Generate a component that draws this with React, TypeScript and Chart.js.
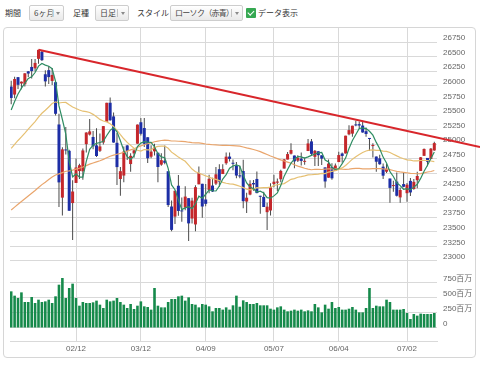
import React, { useEffect, useRef } from 'react';
import { Chart, registerables } from 'chart.js';

Chart.register(...registerables);

// ---- data ----
const dates = [
  '01/16','01/17','01/18','01/19','01/22','01/23','01/24','01/25','01/26','01/29','01/30','01/31',
  '02/01','02/02','02/05','02/06','02/07','02/08','02/09','02/12','02/13','02/14','02/15','02/16','02/20','02/21','02/22','02/23','02/26','02/27','02/28',
  '03/01','03/02','03/05','03/06','03/07','03/08','03/09','03/12','03/13','03/14','03/15','03/16','03/19','03/20','03/21','03/22','03/23','03/26','03/27','03/28','03/29',
  '04/02','04/03','04/04','04/05','04/06','04/09','04/10','04/11','04/12','04/13','04/16','04/17','04/18','04/19','04/20','04/23','04/24','04/25','04/26','04/27','04/30',
  '05/01','05/02','05/03','05/04','05/07','05/08','05/09','05/10','05/11','05/14','05/15','05/16','05/17','05/18','05/21','05/22','05/23','05/24','05/25','05/29','05/30','05/31',
  '06/01','06/04','06/05','06/06','06/07','06/08','06/11','06/12','06/13','06/14','06/15','06/18','06/19','06/20','06/21','06/22','06/25','06/26','06/27','06/28','06/29',
  '07/02','07/03','07/05','07/06','07/09','07/10','07/11','07/12','07/13',
];

const opens = [
  25987, 25850, 26148, 26040, 26026, 26248, 26323, 26299, 26462, 26584,
  26198, 26268, 26083, 26062, 25338, 24085, 24894, 24887, 23992, 24337,
  24540, 24536, 25001, 25165, 25124, 24980, 24887, 25030, 25384, 25710,
  25476, 25024, 24404, 24463, 24979, 24660, 24842, 25009, 25376, 25277,
  25119, 24786, 24878, 24854, 24650, 24718, 24537, 23933, 23760, 24289,
  23853, 23915, 24076, 23727, 23626, 24313, 24322, 24053, 24216, 24292,
  24325, 24572, 24489, 24674, 24788, 24681, 24635, 24467, 24541, 24018,
  24137, 24336, 24405, 24117, 24097, 23836, 23865, 24318, 24341, 24400,
  24583, 24737, 24837, 24806, 24718, 24753, 24698, 24883, 25048, 24784,
  24879, 24810, 24603, 24427, 24609, 24542, 24694, 24841, 24842, 25169,
  25181, 25335, 25343, 25319, 25223, 25091, 24968, 24789, 24758, 24615,
  24529, 24412, 24283, 24360, 24089, 24317, 24161, 24372, 24233, 24384,
  24542, 24801, 24765, 24746, 24893,
];

const highs = [
  26086, 26154, 26153, 26072, 26215, 26252, 26458, 26458, 26617, 26609,
  26267, 26338, 26306, 26062, 25520, 24946, 25293, 24903, 24382, 24757,
  24667, 24925, 25203, 25432, 25224, 25274, 25182, 25310, 25709, 25800,
  25543, 25193, 24608, 24960, 24988, 24846, 24915, 25336, 25450, 25450,
  25119, 24983, 25009, 24854, 24845, 24977, 24537, 24036, 24202, 24473,
  24089, 24280, 24076, 24083, 24296, 24617, 24322, 24317, 24479, 24426,
  24609, 24658, 24656, 24858, 24858, 24738, 24695, 24633, 24733, 24167,
  24384, 24389, 24534, 24117, 24185, 23996, 24333, 24479, 24412, 24561,
  24748, 24868, 25017, 24806, 24811, 24859, 24772, 25087, 25087, 24902,
  24879, 24810, 24603, 24738, 24674, 24669, 24871, 24857, 25146, 25326,
  25317, 25402, 25388, 25403, 25287, 25105, 25017, 24789, 24819, 24668,
  24667, 24412, 24375, 24515, 24260, 24510, 24334, 24422, 24404, 24529,
  24781, 24928, 24765, 24934, 25040,
];

const lows = [
  25685, 25788, 25947, 25943, 25990, 26150, 26124, 26247, 26378, 26425,
  25989, 26032, 26015, 25490, 23923, 23778, 24825, 23860, 23360, 24337,
  24406, 24391, 24860, 25149, 24912, 24781, 24868, 24995, 25384, 25401,
  25024, 24303, 24117, 24349, 24728, 24528, 24768, 25009, 25151, 24950,
  24679, 24761, 24805, 24348, 24630, 24658, 23925, 23509, 23632, 23776,
  23671, 23868, 23344, 23644, 23508, 24313, 23739, 23936, 24158, 24180,
  24300, 24272, 24489, 24648, 24703, 24554, 24418, 24416, 23902, 23823,
  24127, 24205, 24161, 23808, 23924, 23532, 23778, 24263, 24198, 24349,
  24583, 24737, 24822, 24589, 24696, 24634, 24649, 24883, 24811, 24627,
  24627, 24646, 24253, 24427, 24392, 24542, 24694, 24683, 24842, 25152,
  25126, 25306, 25271, 25198, 25127, 24886, 24774, 24527, 24647, 24406,
  24505, 23997, 24185, 24104, 23997, 24264, 24016, 24114, 24218, 24246,
  24542, 24796, 24624, 24746, 24887,
];

const closes = [
  25792, 26116, 26017, 26071, 26214, 26210, 26252, 26392, 26616, 26439,
  26076, 26149, 26186, 25521, 24346, 24912, 24893, 23860, 24190, 24601,
  24640, 24893, 25200, 25219, 24964, 24798, 24962, 25310, 25709, 25410,
  25029, 24608, 24538, 24874, 24884, 24801, 24895, 25336, 25178, 25007,
  24759, 24873, 24947, 24610, 24727, 24682, 23958, 23533, 24202, 23857,
  23849, 24103, 23644, 24034, 24264, 24505, 23933, 23979, 24408, 24190,
  24484, 24360, 24573, 24787, 24748, 24665, 24463, 24448, 24024, 24084,
  24322, 24311, 24163, 24100, 23925, 23930, 24263, 24358, 24361, 24543,
  24740, 24831, 24900, 24706, 24769, 24714, 24715, 25013, 24835, 24887,
  24812, 24753, 24362, 24668, 24416, 24635, 24814, 24799, 25146, 25241,
  25317, 25322, 25320, 25201, 25175, 25090, 24987, 24700, 24657, 24461,
  24580, 24252, 24283, 24117, 24216, 24271, 24307, 24174, 24356, 24456,
  24776, 24919, 24700, 24924, 25019,
];

// moving averages (5 / 25 / 75 day)
const ma5 = [
  25585, 25731, 25860, 25960, 26042, 26126, 26153, 26228, 26337, 26382,
  26355, 26334, 26293, 26074, 25656, 25423, 25172, 24706, 24440, 24491,
  24437, 24437, 24705, 24911, 24983, 25015, 25029, 25051, 25149, 25238,
  25284, 25213, 25059, 24892, 24787, 24741, 24798, 24958, 25019, 25043,
  25035, 25031, 24953, 24839, 24783, 24768, 24585, 24302, 24220, 24046,
  23880, 23909, 23931, 23897, 23979, 24110, 24076, 24143, 24218, 24203,
  24199, 24284, 24403, 24479, 24590, 24627, 24647, 24622, 24470, 24337,
  24268, 24238, 24181, 24196, 24164, 24086, 24076, 24115, 24167, 24291,
  24453, 24567, 24675, 24744, 24789, 24784, 24761, 24783, 24809, 24833,
  24852, 24860, 24730, 24696, 24602, 24567, 24579, 24666, 24762, 24927,
  25063, 25165, 25269, 25280, 25267, 25222, 25155, 25031, 24922, 24779,
  24677, 24530, 24447, 24339, 24290, 24228, 24239, 24217, 24265, 24313,
  24414, 24536, 24641, 24755, 24868,
];

const ma25 = [
  24927, 24998, 25064, 25126, 25191, 25259, 25324, 25388, 25462, 25530,
  25582, 25638, 25696, 25726, 25706, 25714, 25716, 25674, 25638, 25611,
  25585, 25565, 25559, 25544, 25511, 25471, 25425, 25397, 25382, 25350,
  25303, 25237, 25163, 25093, 25031, 24980, 24930, 24896, 24882, 24908,
  24902, 24902, 24945, 24962, 24967, 24969, 24931, 24864, 24824, 24779,
  24742, 24707, 24641, 24574, 24528, 24507, 24480, 24457, 24439, 24411,
  24398, 24377, 24346, 24331, 24320, 24317, 24300, 24280, 24257, 24231,
  24217, 24231, 24256, 24252, 24255, 24258, 24264, 24293, 24306, 24317,
  24326, 24362, 24399, 24411, 24434, 24444, 24458, 24475, 24477, 24483,
  24489, 24500, 24497, 24523, 24536, 24548, 24569, 24594, 24636, 24688,
  24744, 24786, 24825, 24858, 24884, 24898, 24904, 24896, 24894, 24882,
  24876, 24858, 24829, 24800, 24773, 24751, 24733, 24726, 24713, 24715,
  24721, 24725, 24721, 24712, 24703,
];

const ma75 = [
  23874, 23923, 23972, 24019, 24066, 24113, 24160, 24208, 24259, 24308,
  24350, 24394, 24439, 24473, 24491, 24514, 24537, 24544, 24556, 24572,
  24589, 24609, 24633, 24658, 24679, 24697, 24716, 24740, 24769, 24793,
  24813, 24828, 24843, 24862, 24882, 24902, 24922, 24948, 24971, 24990,
  25007, 25024, 25042, 25053, 25063, 25069, 25065, 25055, 25055, 25051,
  25047, 25043, 25034, 25027, 25023, 25023, 25013, 25003, 24998, 24991,
  24987, 24982, 24979, 24979, 24978, 24977, 24973, 24966, 24952, 24936,
  24923, 24909, 24893, 24873, 24848, 24823, 24799, 24777, 24754, 24732,
  24712, 24693, 24673, 24648, 24625, 24607, 24588, 24572, 24563, 24571,
  24569, 24567, 24574, 24580, 24578, 24578, 24577, 24571, 24570, 24574,
  24581, 24586, 24586, 24579, 24576, 24577, 24582, 24584, 24581, 24576,
  24573, 24564, 24550, 24536, 24525, 24519, 24511, 24501, 24498, 24494,
  24495, 24508, 24524, 24533, 24549,
];

// volume, millions of shares
const volumes = [
  611, 539, 500, 594, 433, 433, 517, 417, 472, 433,
  444, 472, 417, 528, 722, 833, 500, 667, 739, 500,
  372, 433, 417, 417, 428, 456, 389, 333, 472, 444,
  456, 500, 433, 389, 333, 400, 317, 372, 444, 361,
  350, 306, 667, 372, 344, 344, 433, 483, 483, 528,
  539, 456, 511, 400, 389, 344, 400, 389, 361, 278,
  333, 333, 306, 344, 306, 378, 539, 355, 461, 433,
  400, 400, 417, 378, 378, 378, 322, 306, 344, 361,
  306, 278, 289, 306, 289, 306, 278, 294, 278, 400,
  344, 261, 389, 322, 433, 333, 350, 306, 306, 322,
  350, 306, 261, 261, 333, 667, 333, 372, 361, 361,
  472, 433, 306, 306, 306, 317, 250, 150, 233, 206,
  239, 233, 233, 233, 250,
];

// resistance trend line: (day index, price)
const trendX = [8, 137.4];
const trendY = [26617, 24952];

const xTickLabels = ['02/12', '03/12', '04/09', '05/07', '06/04', '07/02'];
const priceTicks = [23000, 23250, 23500, 23750, 24000, 24250, 24500, 24750, 25000, 25250, 25500, 25750, 26000, 26250, 26500, 26750];
const volumeTicks = [0, 250, 500, 750];
const volumeTickLabels = ['0', '250百万', '500百万', '750百万'];

// ---- styles ----
const UP = '#c4272b';
const DOWN = '#1d2ea6';
const WICK = '#4a4a4a';
const VOL = '#168a4b';
const GRID = '#d9d9d9';
const TICK_COLOR = '#666';
const JP = '"Noto Sans CJK JP", "Noto Sans", sans-serif';
const NUM_FONT = '"Liberation Sans", "Noto Sans CJK JP", sans-serif';

function Label({ left, text }: { left: number; text: string }) {
  return (
    <div style={{ position: 'absolute', left, top: 5, height: 16, lineHeight: '16px', fontSize: 8, color: '#333', fontFamily: JP, whiteSpace: 'nowrap' }}>
      {text}
    </div>
  );
}

function DropDown({ left, width, text, spacing = 0 }: { left: number; width: number; text: string; spacing?: number }) {
  return (
    <div style={{ position: 'absolute', left, top: 5, width, height: 16, boxSizing: 'border-box', border: '1px solid #cdcdcd', borderRadius: 2, background: 'linear-gradient(#ffffff, #e9e9e9)', fontFamily: JP, fontSize: 8, color: '#444', whiteSpace: 'nowrap' }}>
      <span style={{ position: 'absolute', left: 4, top: 0, lineHeight: '14px', letterSpacing: spacing }}>{text}</span>
      <span style={{ position: 'absolute', right: 10, top: 3, width: 1, height: 8, background: '#c4c4c4' }} />
      <span style={{ position: 'absolute', right: 3, top: 6, width: 0, height: 0, borderLeft: '2px solid transparent', borderRight: '2px solid transparent', borderTop: '3px solid #8a8a8a' }} />
    </div>
  );
}

export default function App() {
  const canvasRef = useRef<HTMLCanvasElement>(null);

  useEffect(() => {
    const canvas = canvasRef.current;
    if (!canvas) return;
    const idx = closes.map((_, i) => i);
    const bodyColors = idx.map((i) => (closes[i] >= opens[i] ? UP : DOWN));
    const xTickValues = xTickLabels.map((l) => dates.indexOf(l));

    const chart = new Chart(canvas, {
      type: 'bar',
      data: {
        datasets: [
          {
            type: 'line',
            label: 'trend',
            data: trendX.map((x, i) => ({ x, y: trendY[i] })),
            borderColor: '#d8262b',
            borderWidth: 2,
            pointRadius: 0,
            clip: false,
            yAxisID: 'yPrice',
            xAxisID: 'x',
            order: 0,
          } as any,
          {
            type: 'line',
            label: 'MA5',
            data: idx.map((i) => ({ x: i, y: ma5[i] })),
            borderColor: '#2f8d63',
            borderWidth: 1.2,
            pointRadius: 0,
            yAxisID: 'yPrice',
            xAxisID: 'x',
            order: 1,
          } as any,
          {
            type: 'line',
            label: 'MA25',
            data: idx.map((i) => ({ x: i, y: ma25[i] })),
            borderColor: '#e6c072',
            borderWidth: 1.2,
            pointRadius: 0,
            yAxisID: 'yPrice',
            xAxisID: 'x',
            order: 1,
          } as any,
          {
            type: 'line',
            label: 'MA75',
            data: idx.map((i) => ({ x: i, y: ma75[i] })),
            borderColor: '#e9a56c',
            borderWidth: 1.2,
            pointRadius: 0,
            yAxisID: 'yPrice',
            xAxisID: 'x',
            order: 1,
          } as any,
          {
            type: 'bar',
            label: 'body',
            data: idx.map((i) => ({ x: i, y: [opens[i], closes[i]] })),
            backgroundColor: bodyColors,
            barThickness: 3,
            grouped: false,
            minBarLength: 1,
            inflateAmount: 0,
            yAxisID: 'yPrice',
            xAxisID: 'x',
            order: 2,
          } as any,
          {
            type: 'bar',
            label: 'wick',
            data: idx.map((i) => ({ x: i, y: [lows[i], highs[i]] })),
            backgroundColor: WICK,
            barThickness: 1,
            grouped: false,
            inflateAmount: 0,
            yAxisID: 'yPrice',
            xAxisID: 'x',
            order: 3,
          } as any,
          {
            type: 'bar',
            label: 'volume',
            data: idx.map((i) => ({ x: i, y: volumes[i] })),
            backgroundColor: VOL,
            barThickness: 2.6,
            grouped: false,
            inflateAmount: 0,
            yAxisID: 'yVol',
            xAxisID: 'x',
            order: 4,
          } as any,
        ],
      },
      options: {
        responsive: false,
        devicePixelRatio: 1,
        animation: false,
        events: [],
        layout: { padding: { left: 10, right: 0, top: 0, bottom: 0 } },
        plugins: { legend: { display: false }, tooltip: { enabled: false } },
        scales: {
          x: {
            type: 'linear',
            position: 'bottom',
            min: -0.352,
            max: 124.79,
            offset: false,
            grid: { color: GRID, drawTicks: false, offset: false },
            border: { display: true, color: GRID },
            ticks: {
              autoSkip: false,
              maxRotation: 0,
              padding: 3,
              color: TICK_COLOR,
              font: { family: NUM_FONT, size: 8 },
              callback: (v: any) => dates[v as number] ?? '',
            },
            afterBuildTicks: (s: any) => {
              s.ticks = xTickValues.map((v) => ({ value: v }));
            },
            afterFit: (s: any) => {
              s.height = 17;
              s.paddingLeft = 0;
              s.paddingRight = 0;
            },
          },
          yPrice: {
            type: 'linear',
            position: 'right',
            stack: 'v',
            stackWeight: 240,
            min: 22880,
            max: 26990,
            grid: { color: GRID, drawTicks: false },
            border: { display: false },
            ticks: {
              autoSkip: false,
              padding: 6,
              labelOffset: -4,
              color: TICK_COLOR,
              font: { family: NUM_FONT, size: 8 },
              callback: (v: any) => String(v),
            },
            afterBuildTicks: (s: any) => {
              s.ticks = priceTicks.map((v) => ({ value: v }));
            },
            afterFit: (s: any) => {
              s.width = 43;
              s.paddingTop = 0;
              s.paddingBottom = 0;
            },
          },
          yVol: {
            type: 'linear',
            position: 'right',
            stack: 'v',
            stackWeight: 73,
            min: -216.7,
            max: 1000,
            grid: { color: GRID, drawTicks: false },
            border: { display: false },
            ticks: {
              autoSkip: false,
              padding: 6,
              labelOffset: -4,
              color: TICK_COLOR,
              font: { family: NUM_FONT, size: 8 },
              callback: (v: any) => volumeTickLabels[volumeTicks.indexOf(v as number)] ?? '',
            },
            afterBuildTicks: (s: any) => {
              s.ticks = volumeTicks.map((v) => ({ value: v }));
            },
            afterFit: (s: any) => {
              s.width = 43;
              s.paddingTop = 0;
              s.paddingBottom = 0;
            },
          },
        } as any,
      },
    });
    return () => chart.destroy();
  }, []);

  return (
    <div style={{ position: 'fixed', left: 0, top: 0, width: 480, height: 365, background: '#fff', overflow: 'hidden' }}>
      <Label left={5} text="期間" />
      <DropDown left={29} width={35} text="6ヶ月" />
      <Label left={73} text="足種" />
      <DropDown left={95} width={34} text="日足" />
      <Label left={137} text="スタイル" />
      <DropDown left={170} width={73} text="ローソク（赤青）" spacing={-0.7} />
      <div style={{ position: 'absolute', left: 246, top: 8, width: 10, height: 10, background: '#36a852', borderRadius: 1 }}>
        <div style={{ position: 'absolute', left: 3, top: 1, width: 2.5, height: 5, borderRight: '1.5px solid #fff', borderBottom: '1.5px solid #fff', transform: 'rotate(45deg)' }} />
      </div>
      <Label left={258} text="データ表示" />
      <div style={{ position: 'absolute', left: 3, top: 27, width: 473, height: 331, boxSizing: 'border-box', border: '1px solid #d6d6d6', borderRadius: 4 }} />
      <canvas ref={canvasRef} width={480} height={330} style={{ position: 'absolute', left: 0, top: 28, width: 480, height: 330 }} />
    </div>
  );
}
